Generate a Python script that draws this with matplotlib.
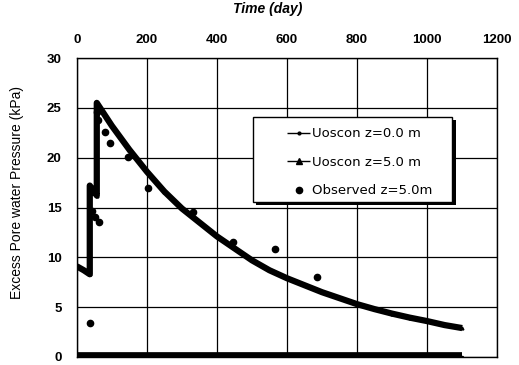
import numpy as np
import matplotlib
matplotlib.use("Agg")
import matplotlib.pyplot as plt
from matplotlib.patches import Rectangle

plt.rcParams['font.family'] = ['Liberation Sans', 'DejaVu Sans']

# Uoscon z=5.0 m
t_z5 = [0, 20, 37, 37, 45, 57, 57, 100, 150, 200, 250, 300, 350, 400, 450, 500,
        550, 600, 650, 700, 750, 800, 850, 900, 950, 1000, 1050, 1100]
u_z5 = [9.1, 8.7, 8.3, 17.2, 16.8, 16.2, 25.5, 23.2, 20.8, 18.6, 16.6, 14.9, 13.5,
        12.1, 10.9, 9.7, 8.7, 7.9, 7.2, 6.5, 5.9, 5.3, 4.8, 4.35, 3.95, 3.6, 3.2, 2.9]

# Uoscon z=0.0 m
t_z0 = [0, 1100]
u_z0 = [0.0, 0.0]

# Observed z=5.0 m
t_obs = [37, 43, 52, 62, 57, 61, 80, 94, 146, 203, 331, 446, 566, 686]
u_obs = [3.4, 14.6, 14.0, 13.5, 24.6, 23.8, 22.6, 21.5, 20.1, 17.0, 14.5, 11.5, 10.8, 8.0]

fig = plt.figure(figsize=(5.19, 3.65), dpi=100)
ax = fig.add_axes([0.148, 0.022, 0.81, 0.819])

ax.plot(t_z0, u_z0, color='black', lw=7, marker='.', markersize=3,
        label='Uoscon z=0.0 m', solid_capstyle='butt')
ax.plot(t_z5, u_z5, color='black', lw=4.5, marker='^', markersize=2,
        label='Uoscon z=5.0 m', solid_capstyle='butt')
ax.plot(t_obs, u_obs, 'o', color='black', markersize=4.5, label='Observed z=5.0m')

ax.set_xlim(0, 1200)
ax.set_ylim(0, 30)
ax.set_xticks(range(0, 1201, 200))
ax.set_yticks(range(0, 31, 5))
ax.xaxis.tick_top()
ax.xaxis.set_label_position('top')
ax.tick_params(length=0, labelsize=9.5)
ax.tick_params(axis='x', pad=9)
ax.tick_params(axis='y', pad=11)
for lab in ax.get_xticklabels() + ax.get_yticklabels():
    lab.set_fontweight('bold')
ax.set_xlabel('Time (day)', fontsize=10, fontweight='bold', fontstyle='italic')
ax.xaxis.set_label_coords(0.455, 1.15)
ax.set_ylabel('Excess Pore water Pressure (kPa)', fontsize=10)
ax.yaxis.set_label_coords(-0.125, 0.55)
ax.grid(True, color='black', lw=0.9)
for s in ax.spines.values():
    s.set_linewidth(1.0)

# legend box with a solid drop shadow
box = dict(x=0.419, y=0.52, w=0.474, h=0.283)
ax.add_patch(Rectangle((box['x'] + 0.008, box['y'] - 0.011), box['w'], box['h'],
                       transform=ax.transAxes, facecolor='black', edgecolor='none',
                       zorder=5))
ax.add_patch(Rectangle((box['x'], box['y']), box['w'], box['h'],
                       transform=ax.transAxes, facecolor='white', edgecolor='black',
                       lw=1.0, zorder=6))
leg = ax.legend(loc='upper left', bbox_to_anchor=(0.5, 0.768), frameon=False,
                prop={'family': 'DejaVu Sans', 'size': 9.5},
                handlelength=1.75, labelspacing=1.17, borderpad=0,
                handletextpad=0.15, borderaxespad=0)
leg.set_zorder(7)
for h in leg.get_lines()[:2]:
    h.set_linewidth(1.0)
    h.set_markersize(4)

fig.savefig('out.png', dpi=100)
